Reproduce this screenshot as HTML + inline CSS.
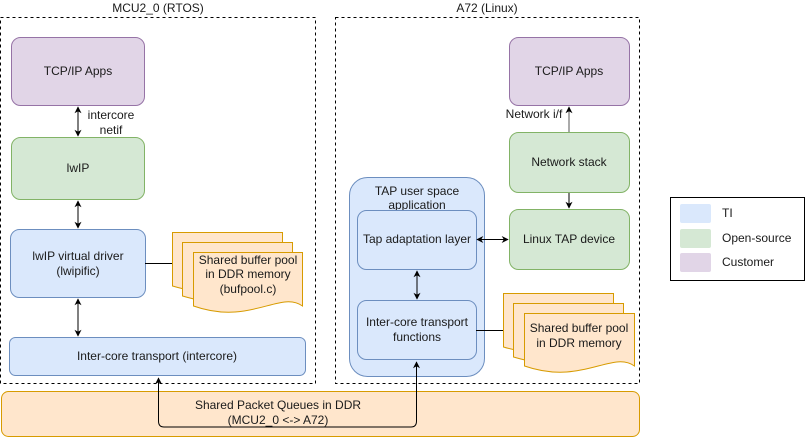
<!DOCTYPE html>
<html><head><meta charset="utf-8"><style>
html,body{margin:0;padding:0;background:#fff;}
svg{display:block;}
text{font-family:"Liberation Sans",sans-serif;font-size:12px;fill:#1a1a1a;}
</style></head><body>
<svg width="806" height="438" viewBox="0 0 806 438" xmlns="http://www.w3.org/2000/svg">
<defs>
<marker id="a" viewBox="0 0 10 10" refX="9" refY="5" markerWidth="7" markerHeight="7" orient="auto-start-reverse" markerUnits="userSpaceOnUse"><path d="M0,0 L10,5 L0,10 L3,5 Z" fill="#000"/></marker>
</defs>
<!-- containers -->
<rect x="0.5" y="17.5" width="315" height="366" fill="none" stroke="#000" stroke-dasharray="3,3"/>
<text x="158" y="12" text-anchor="middle">MCU2_0 (RTOS)</text>
<rect x="335.5" y="17.5" width="304" height="366" fill="none" stroke="#000" stroke-dasharray="3,3"/>
<text x="487" y="12" text-anchor="middle">A72 (Linux)</text>

<!-- bottom bar -->
<rect x="1.5" y="391.5" width="638" height="45" rx="7" fill="#ffe6cc" stroke="#d79b00"/>
<text x="278" y="409" text-anchor="middle">Shared Packet Queues in DDR</text>
<text x="278" y="424" text-anchor="middle">(MCU2_0 &lt;-&gt; A72)</text>

<!-- left boxes -->
<rect x="11.5" y="37.5" width="133" height="68" rx="9" fill="#e1d5e7" stroke="#9673a6"/>
<text x="78" y="75" text-anchor="middle">TCP/IP Apps</text>
<rect x="11.5" y="137.5" width="133" height="62" rx="9" fill="#d5e8d4" stroke="#82b366"/>
<text x="78" y="172" text-anchor="middle">lwIP</text>
<rect x="10.5" y="229.5" width="135" height="68" rx="9" fill="#dae8fc" stroke="#6c8ebf"/>
<text x="78" y="260" text-anchor="middle">lwIP virtual driver</text>
<text x="78" y="275" text-anchor="middle">(lwipific)</text>
<rect x="9.5" y="337.5" width="296" height="38" rx="6" fill="#dae8fc" stroke="#6c8ebf"/>
<text x="157" y="360" text-anchor="middle">Inter-core transport (intercore)</text>

<line x1="78" y1="107" x2="78" y2="136" stroke="#000" marker-start="url(#a)" marker-end="url(#a)"/>
<text x="111" y="119" text-anchor="middle">intercore</text>
<text x="111" y="134" text-anchor="middle">netif</text>
<line x1="78" y1="201" x2="78" y2="228" stroke="#000" marker-start="url(#a)" marker-end="url(#a)"/>
<line x1="78" y1="299" x2="78" y2="336" stroke="#000" marker-start="url(#a)" marker-end="url(#a)"/>

<!-- left docs -->
<line x1="145" y1="263.5" x2="172" y2="263.5" stroke="#000"/>
<g fill="#ffe6cc" stroke="#d79b00">
<path d="M172.5,232.5 H282.5 V286 C260,274 240,306 172.5,286 Z"/>
<path d="M182.5,242.5 H292.5 V296 C270,284 250,316 182.5,296 Z"/>
<path d="M193.5,252.5 H302.5 V306 C280,290 250,326 193.5,306 Z"/>
</g>
<text x="248" y="264" text-anchor="middle">Shared buffer pool</text>
<text x="248" y="278" text-anchor="middle">in DDR memory</text>
<text x="248" y="293" text-anchor="middle">(bufpool.c)</text>

<!-- right side -->
<rect x="509.5" y="37.5" width="120" height="68" rx="9" fill="#e1d5e7" stroke="#9673a6"/>
<text x="569" y="75" text-anchor="middle">TCP/IP Apps</text>
<rect x="509.5" y="132.5" width="120" height="60" rx="9" fill="#d5e8d4" stroke="#82b366"/>
<text x="569" y="166" text-anchor="middle">Network stack</text>
<rect x="509.5" y="209.5" width="120" height="60" rx="9" fill="#d5e8d4" stroke="#82b366"/>
<text x="569" y="243" text-anchor="middle">Linux TAP device</text>
<line x1="569" y1="132" x2="569" y2="107" stroke="#555" marker-end="url(#a)"/>
<text x="534" y="118" text-anchor="middle">Network i/f</text>
<line x1="569" y1="193" x2="569" y2="208" stroke="#000" marker-end="url(#a)"/>

<rect x="349.5" y="177.5" width="135" height="199" rx="18" fill="#dae8fc" stroke="#6c8ebf"/>
<text x="417" y="195" text-anchor="middle">TAP user space</text>
<text x="417" y="209" text-anchor="middle">application</text>
<rect x="357.5" y="210.5" width="119" height="59" rx="9" fill="#dae8fc" stroke="#6c8ebf"/>
<text x="417" y="243" text-anchor="middle">Tap adaptation layer</text>
<rect x="357.5" y="300.5" width="119" height="59" rx="9" fill="#dae8fc" stroke="#6c8ebf"/>
<text x="417" y="326" text-anchor="middle">Inter-core transport</text>
<text x="417" y="341" text-anchor="middle">functions</text>
<line x1="477" y1="239.5" x2="508" y2="239.5" stroke="#000" marker-start="url(#a)" marker-end="url(#a)"/>
<line x1="417" y1="271" x2="417" y2="299" stroke="#000" marker-start="url(#a)" marker-end="url(#a)"/>

<line x1="476" y1="330.5" x2="503" y2="330.5" stroke="#000"/>
<g fill="#ffe6cc" stroke="#d79b00">
<path d="M503.5,293.5 H613.5 V347 C591,335 571,367 503.5,347 Z"/>
<path d="M513.5,303.5 H623.5 V357 C601,345 581,377 513.5,357 Z"/>
<path d="M524.5,313.5 H634.5 V366 C612,350 582,386 524.5,366 Z"/>
</g>
<text x="579" y="332" text-anchor="middle">Shared buffer pool</text>
<text x="579" y="347" text-anchor="middle">in DDR memory</text>

<!-- bottom connector -->
<path d="M158.5,378 V421 Q158.5,427 164,427 H411 Q416.5,427 416.5,421 V362" fill="none" stroke="#000" marker-start="url(#a)" marker-end="url(#a)"/>

<!-- legend -->
<rect x="670.5" y="197.5" width="134" height="83" fill="#fff" stroke="#000"/>
<rect x="680" y="204" width="31" height="19" rx="2" fill="#dae8fc"/>
<rect x="680" y="229" width="31" height="19" rx="2" fill="#d5e8d4"/>
<rect x="680" y="253" width="31" height="19" rx="2" fill="#e1d5e7"/>
<text x="722" y="217">TI</text>
<text x="722" y="242">Open-source</text>
<text x="722" y="266">Customer</text>
</svg>
</body></html>
